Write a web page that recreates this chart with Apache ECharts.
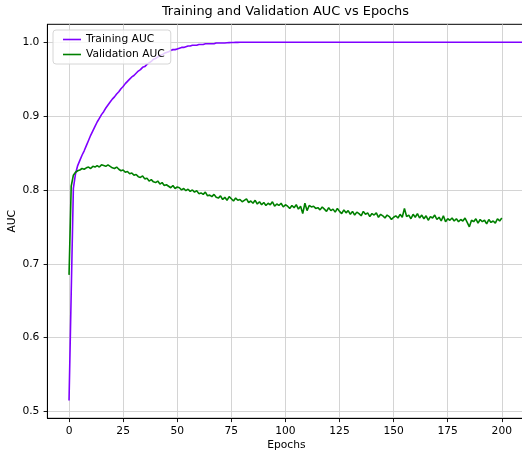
<!DOCTYPE html>
<html>
<head>
<meta charset="utf-8">
<script src="https://cdn.jsdelivr.net/npm/echarts@6/dist/echarts.min.js"></script>
<style>html,body{margin:0;padding:0;background:#fff}#c{width:522px;height:451px}</style>
</head>
<body>
<div id="c"></div>
<script>
const chartTitle = 'Training and Validation AUC vs Epochs';
const xTicks = [0, 25, 50, 75, 100, 125, 150, 175, 200];
const yTicks = [0.5, 0.6, 0.7, 0.8, 0.9, 1.0];
const seriesNames = ['Training AUC', 'Validation AUC'];
const trainingAUC = [
  0.515, 0.660, 0.802, 0.822, 0.833, 0.840, 0.847, 0.853, 0.860, 0.867, 0.874,
  0.880, 0.886, 0.892, 0.897, 0.902, 0.906, 0.911, 0.915, 0.919, 0.923,
  0.926, 0.930, 0.933, 0.937, 0.940, 0.944, 0.947, 0.950, 0.953, 0.955,
  0.958, 0.961, 0.963, 0.966, 0.967, 0.970, 0.972, 0.974, 0.977, 0.978,
  0.980, 0.982, 0.983, 0.985, 0.986, 0.987, 0.989, 0.990, 0.990, 0.991,
  0.992, 0.993, 0.993, 0.994, 0.995, 0.995, 0.996, 0.996, 0.996, 0.997,
  0.997, 0.997, 0.998, 0.998, 0.998, 0.998, 0.998, 0.999, 0.999, 0.999,
  0.999, 0.999, 0.9993, 0.9995, 0.9996, 0.9997, 0.9998, 0.9998, 0.9999, 0.9999,
  1.0, 1.0, 1.0, 1.0, 1.0, 1.0, 1.0, 1.0, 1.0, 1.0,
  1.0, 1.0, 1.0, 1.0, 1.0, 1.0, 1.0, 1.0, 1.0, 1.0,
  1.0, 1.0, 1.0, 1.0, 1.0, 1.0, 1.0, 1.0, 1.0, 1.0,
  1.0, 1.0, 1.0, 1.0, 1.0, 1.0, 1.0, 1.0, 1.0, 1.0,
  1.0, 1.0, 1.0, 1.0, 1.0, 1.0, 1.0, 1.0, 1.0, 1.0,
  1.0, 1.0, 1.0, 1.0, 1.0, 1.0, 1.0, 1.0, 1.0, 1.0,
  1.0, 1.0, 1.0, 1.0, 1.0, 1.0, 1.0, 1.0, 1.0, 1.0,
  1.0, 1.0, 1.0, 1.0, 1.0, 1.0, 1.0, 1.0, 1.0, 1.0,
  1.0, 1.0, 1.0, 1.0, 1.0, 1.0, 1.0, 1.0, 1.0, 1.0,
  1.0, 1.0, 1.0, 1.0, 1.0, 1.0, 1.0, 1.0, 1.0, 1.0,
  1.0, 1.0, 1.0, 1.0, 1.0, 1.0, 1.0, 1.0, 1.0, 1.0,
  1.0, 1.0, 1.0, 1.0, 1.0, 1.0, 1.0, 1.0, 1.0, 1.0,
  1.0, 1.0, 1.0, 1.0, 1.0, 1.0, 1.0, 1.0, 1.0, 1.0,
  1.0, 1.0, 1.0, 1.0, 1.0, 1.0, 1.0, 1.0, 1.0, 1.0
];
const validationAUC = [
  0.685, 0.805, 0.820, 0.824, 0.826, 0.827, 0.829, 0.828, 0.830, 0.831, 0.829,
  0.832, 0.831, 0.833, 0.831, 0.834, 0.833, 0.832, 0.834, 0.832, 0.830,
  0.829, 0.831, 0.828, 0.826, 0.827, 0.824, 0.825, 0.822, 0.823, 0.820,
  0.821, 0.818, 0.817, 0.819, 0.815, 0.816, 0.812, 0.814, 0.811, 0.810,
  0.812, 0.808, 0.810, 0.806, 0.807, 0.805, 0.803, 0.806, 0.802, 0.804,
  0.803, 0.800, 0.802, 0.799, 0.801, 0.798, 0.800, 0.797, 0.799, 0.795,
  0.796, 0.794, 0.797, 0.792, 0.793, 0.791, 0.794, 0.790, 0.789, 0.792,
  0.787, 0.790, 0.786, 0.791, 0.788, 0.785, 0.789, 0.786, 0.787, 0.784,
  0.786, 0.788, 0.783, 0.785, 0.782, 0.786, 0.781, 0.784, 0.780, 0.783,
  0.779, 0.782, 0.780, 0.784, 0.778, 0.781, 0.779, 0.782, 0.777, 0.780,
  0.778, 0.775, 0.779, 0.776, 0.780, 0.774, 0.778, 0.768, 0.782, 0.772,
  0.779, 0.777, 0.778, 0.775, 0.776, 0.773, 0.777, 0.774, 0.771, 0.776,
  0.772, 0.774, 0.770, 0.775, 0.771, 0.768, 0.773, 0.769, 0.772, 0.767,
  0.771, 0.766, 0.770, 0.768, 0.765, 0.771, 0.767, 0.769, 0.764, 0.768,
  0.766, 0.769, 0.763, 0.767, 0.765, 0.762, 0.766, 0.764, 0.760, 0.763,
  0.765, 0.762, 0.767, 0.763, 0.775, 0.764, 0.766, 0.761, 0.767, 0.763,
  0.768, 0.762, 0.766, 0.761, 0.765, 0.759, 0.764, 0.762, 0.766, 0.760,
  0.763, 0.758, 0.765, 0.757, 0.761, 0.759, 0.762, 0.758, 0.761, 0.757,
  0.760, 0.758, 0.762, 0.756, 0.750, 0.759, 0.757, 0.761, 0.755, 0.760,
  0.757, 0.759, 0.754, 0.760, 0.756, 0.758, 0.755, 0.761, 0.758, 0.762
];

const FONT = 'DejaVu Sans';
const toPairs = arr => arr.map((v, i) => [i, v]);
const LINE_ICON = 'path://M0,0H18V1.6H0Z';

const chart = echarts.init(document.getElementById('c'), null, {renderer: 'canvas'});
chart.setOption({
  animation: false,
  backgroundColor: '#ffffff',
  title: {
    text: chartTitle,
    left: 285.4,
    top: 5.5,
    padding: 0,
    textAlign: 'center',
    textStyle: {fontFamily: FONT, fontSize: 12.9, fontWeight: 'normal', color: '#000'}
  },
  legend: {
    data: seriesNames.map(n => ({name: n, icon: LINE_ICON})),
    orient: 'vertical',
    left: 53,
    top: 30,
    padding: [4, 6, 4, 10],
    itemGap: 4,
    itemWidth: 18,
    itemHeight: 11,
    symbolKeepAspect: true,
    backgroundColor: 'rgba(255,255,255,0.8)',
    borderColor: '#d6d6d6',
    borderWidth: 1,
    borderRadius: 3,
    textStyle: {fontFamily: FONT, fontSize: 10.7, color: '#000'}
  },
  grid: {
    left: 47.4, top: 24.3, width: 478, height: 394,
    outerBoundsMode: 'none', containLabel: false,
    show: true, borderColor: '#000', borderWidth: 1, backgroundColor: 'transparent'
  },
  xAxis: {
    type: 'value', min: -10, max: 210.9,
    name: 'Epochs', nameLocation: 'middle', nameGap: 21, nameMoveOverlap: false,
    nameTextStyle: {fontFamily: FONT, fontSize: 10.7, color: '#000'},
    axisLine: {show: true, onZero: false, lineStyle: {color: '#000', width: 1}},
    axisTick: {show: true, customValues: xTicks, length: 3.8, lineStyle: {color: '#000', width: 0.9}},
    axisLabel: {customValues: xTicks, margin: 7, fontFamily: FONT, fontSize: 10.7, color: '#000'},
    splitLine: {show: true, lineStyle: {color: '#cfcfcf', width: 0.9}}
  },
  yAxis: {
    type: 'value', min: 0.4908, max: 1.0243,
    name: 'AUC', nameLocation: 'middle', nameGap: 30, nameMoveOverlap: false,
    nameTextStyle: {fontFamily: FONT, fontSize: 10.7, color: '#000'},
    axisLine: {show: true, onZero: false, lineStyle: {color: '#000', width: 1}},
    axisTick: {show: true, customValues: yTicks, length: 3.8, lineStyle: {color: '#000', width: 0.9}},
    axisLabel: {customValues: yTicks, margin: 8, fontFamily: FONT, fontSize: 10.7, color: '#000',
      formatter: v => v.toFixed(1)},
    splitLine: {show: true, lineStyle: {color: '#cfcfcf', width: 0.9}}
  },
  series: [
    {name: seriesNames[0], type: 'line', data: toPairs(trainingAUC), symbol: 'none',
      lineStyle: {color: '#7f00ff', width: 1.6}, itemStyle: {color: '#7f00ff'}},
    {name: seriesNames[1], type: 'line', data: toPairs(validationAUC), symbol: 'none',
      lineStyle: {color: '#008000', width: 1.6}, itemStyle: {color: '#008000'}}
  ]
});
</script>
</body>
</html>
